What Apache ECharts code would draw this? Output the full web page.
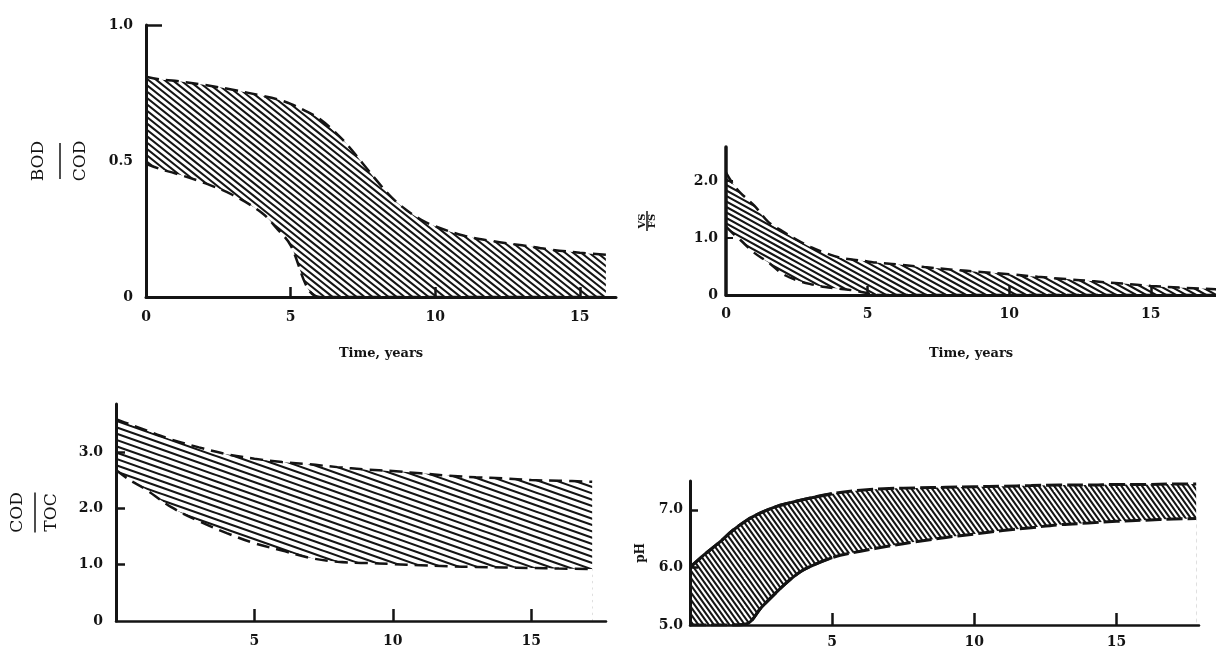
<!DOCTYPE html>
<html>
<head>
<meta charset="utf-8">
<script src="https://cdn.jsdelivr.net/npm/echarts@6/dist/echarts.min.js"></script>
<style>
html,body{margin:0;padding:0;background:#fff;}
#c{width:1216px;height:660px;}
</style>
</head>
<body>
<div id="c"></div>
<script>
// ---- Panel 1: BOD/COD vs time ----
const x1 = [0, 0.5, 1, 2, 3, 4, 4.5, 5, 5.6, 6, 6.5, 7, 7.5, 8, 8.5, 9, 9.5, 10, 11, 12, 13, 14, 15, 15.9];
const u1 = [0.81, 0.80, 0.795, 0.78, 0.762, 0.74, 0.728, 0.71, 0.68, 0.655, 0.61, 0.555, 0.49, 0.425, 0.365, 0.32, 0.285, 0.26, 0.225, 0.205, 0.19, 0.174, 0.163, 0.155];
const l1 = [0.49, 0.47, 0.455, 0.42, 0.375, 0.31, 0.255, 0.19, 0.03, 0, 0, 0, 0, 0, 0, 0, 0, 0, 0, 0, 0, 0, 0, 0];
// ---- Panel 2: VS/FS vs time ----
const x2 = [0, 0.25, 0.5, 1, 1.5, 2, 2.5, 3, 3.5, 4, 4.5, 5, 5.3, 6, 7, 8, 9, 10, 11, 12, 13, 14, 15, 16, 17.3];
const u2 = [2.15, 1.95, 1.8, 1.57, 1.28, 1.12, 0.97, 0.84, 0.74, 0.66, 0.62, 0.59, 0.57, 0.54, 0.49, 0.445, 0.405, 0.365, 0.32, 0.28, 0.24, 0.20, 0.16, 0.13, 0.10];
const l2 = [1.2, 1.08, 0.97, 0.74, 0.57, 0.37, 0.26, 0.19, 0.14, 0.11, 0.08, 0.03, 0, 0, 0, 0, 0, 0, 0, 0, 0, 0, 0, 0, 0];
// ---- Panel 3: COD/TOC vs time ----
const x3 = [0, 0.5, 1, 2, 3, 4, 5, 6, 7, 8, 9, 10, 11, 12, 13, 14, 15, 16, 17.2];
const u3 = [3.58, 3.49, 3.40, 3.22, 3.08, 2.96, 2.88, 2.82, 2.78, 2.73, 2.69, 2.66, 2.62, 2.58, 2.55, 2.53, 2.50, 2.49, 2.47];
const l3 = [2.68, 2.5, 2.36, 2.02, 1.77, 1.56, 1.38, 1.25, 1.12, 1.05, 1.03, 1.01, 0.99, 0.97, 0.96, 0.95, 0.94, 0.93, 0.92];
// ---- Panel 4: pH vs time ----
const x4 = [0, 0.5, 1, 1.5, 2, 2.5, 3, 3.5, 4, 5, 6, 7, 8, 9, 10, 11, 12, 13, 14, 15, 16, 17, 17.8];
const u4 = [6.0, 6.22, 6.42, 6.64, 6.82, 6.95, 7.05, 7.12, 7.18, 7.28, 7.34, 7.37, 7.38, 7.39, 7.40, 7.41, 7.42, 7.43, 7.43, 7.44, 7.44, 7.45, 7.45];
const l4 = [5.0, 5.0, 5.0, 5.0, 5.02, 5.3, 5.55, 5.78, 5.96, 6.17, 6.28, 6.37, 6.45, 6.52, 6.58, 6.64, 6.69, 6.74, 6.77, 6.80, 6.82, 6.84, 6.85];
// part of the pH boundaries printed as a solid line (x <= 5)
const solidEnd4 = 5;

// ---- tick labels ----
const xLabels1 = [0, 5, 10, 15];
const xLabels2 = [0, 5, 10, 15];
const xLabels3 = [5, 10, 15];
const xLabels4 = [5, 10, 15];
const xTickMarks = [5, 10, 15];
const yLabels1 = [0, 0.5, 1.0];
const yLabels2 = [0, 1.0, 2.0];
const yLabels3 = [0, 1.0, 2.0, 3.0];
const yLabels4 = [5.0, 6.0, 7.0];
const xTitle = 'Time, years';

const INK = '#141414';
const FONT = 'DejaVu Serif';

function hatch(slope, hs, lw) {
  const n = Math.max(1, Math.round(60 / hs));
  const W = Math.round(hs * n);
  const H = Math.max(1, Math.round(slope * W));
  const c = document.createElement('canvas');
  c.width = W; c.height = H;
  const g = c.getContext('2d');
  g.fillStyle = '#fff'; g.fillRect(0, 0, W, H);
  g.strokeStyle = INK; g.lineWidth = lw;
  for (let i = 0; i < n; i++) {
    for (let k = -2; k <= 1; k++) {
      const x0 = i * W / n + k * W;
      g.beginPath(); g.moveTo(x0 - W, -H); g.lineTo(x0 + 2 * W, 2 * H); g.stroke();
    }
  }
  return { image: c, repeat: 'repeat' };
}

const panels = [
  { x: x1, u: u1, l: l1, pat: hatch(0.8, 8, 2.0), dash: [13, 7], lw: 2.5 },
  { x: x2, u: u2, l: l2, pat: hatch(0.55, 10, 2.0), dash: [12, 7], lw: 2.5 },
  { x: x3, u: u3, l: l3, pat: hatch(0.35, 18, 2.1), dash: [13, 7], lw: 2.5 },
  { x: x4, u: u4, l: l4, pat: hatch(1.4, 5.2, 2.1), dash: [16, 5], lw: 3 }
];

const series = [];
panels.forEach((p, i) => {
  const upperData = p.x.map((v, j) => [v, p.u[j]]);
  const lowerData = p.x.map((v, j) => [v, p.l[j]]);
  const ls = { type: p.dash, width: p.lw, color: INK, cap: 'butt' };
  // hatched area under the upper boundary
  series.push({
    type: 'line', xAxisIndex: i, yAxisIndex: i,
    data: upperData, symbol: 'none', smooth: 0.35, lineStyle: ls,
    areaStyle: { color: p.pat, opacity: 1, origin: 'start' }, z: 2, silent: true
  });
  // blank area under the lower boundary (leaves only the band hatched)
  series.push({
    type: 'line', xAxisIndex: i, yAxisIndex: i,
    data: lowerData, symbol: 'none', smooth: 0.35, lineStyle: ls,
    areaStyle: { color: '#ffffff', opacity: 1, origin: 'start' }, z: 3, silent: true
  });
});
// solid early part of the pH boundaries
const solidStyle = { type: 'solid', width: 3, color: INK };
series.push({
  type: 'line', xAxisIndex: 3, yAxisIndex: 3, symbol: 'none', smooth: 0.35, z: 4, silent: true,
  lineStyle: solidStyle,
  data: x4.map((v, j) => [v, u4[j]]).filter(d => d[0] <= solidEnd4)
});
series.push({
  type: 'line', xAxisIndex: 3, yAxisIndex: 3, symbol: 'none', smooth: 0.35, z: 4, silent: true,
  lineStyle: solidStyle,
  data: x4.map((v, j) => [v, l4[j]]).filter(d => d[0] >= 1.5 && d[0] <= solidEnd4)
});

const lab = (extra) => Object.assign({
  fontFamily: FONT, fontWeight: 'bold', fontSize: 14, color: INK
}, extra);

function fmtY(v) { return v === 0 ? '0' : v.toFixed(1); }
function fmtX(v) { return String(v); }

const axisLine = (w) => ({ show: true, onZero: false, lineStyle: { color: INK, width: w } });
const titleStyle = { fontFamily: FONT, fontWeight: 'bold', fontSize: 13, color: INK };

const xAxes = [
  { gridIndex: 0, type: 'value', min: 0, max: 16.25, interval: 5, z: 10,
    axisLine: axisLine(3), splitLine: { show: false },
    axisTick: { inside: true, length: 10, customValues: xTickMarks, lineStyle: { color: INK, width: 2.5 } },
    axisLabel: lab({ customValues: xLabels1, margin: 13, formatter: fmtX }),
    name: xTitle, nameLocation: 'middle', nameGap: 50, nameTextStyle: titleStyle },
  { gridIndex: 1, type: 'value', min: 0, max: 17.3, interval: 5, z: 10,
    axisLine: axisLine(3), splitLine: { show: false },
    axisTick: { inside: true, length: 9, customValues: xTickMarks, lineStyle: { color: INK, width: 2.5 } },
    axisLabel: lab({ customValues: xLabels2, margin: 12, formatter: fmtX }),
    name: xTitle, nameLocation: 'middle', nameGap: 52, nameTextStyle: titleStyle },
  { gridIndex: 2, type: 'value', min: 0, max: 17.7, interval: 5, z: 10,
    axisLine: axisLine(2.5), splitLine: { show: false },
    axisTick: { inside: true, length: 12, customValues: xTickMarks, lineStyle: { color: INK, width: 2.5 } },
    axisLabel: lab({ customValues: xLabels3, margin: 13, formatter: fmtX }) },
  { gridIndex: 3, type: 'value', min: 0, max: 17.9, interval: 5, z: 10,
    axisLine: axisLine(2.5), splitLine: { show: false },
    axisTick: { inside: true, length: 12, customValues: xTickMarks, lineStyle: { color: INK, width: 2.5 } },
    axisLabel: lab({ customValues: xLabels4, margin: 10, formatter: fmtX }) }
];

const fracRich = (size, w, lh, weight) => ({
  a: { fontFamily: FONT, fontSize: size, color: INK, lineHeight: lh, fontWeight: weight },
  l: { width: w, height: 0, borderColor: INK, borderWidth: 1.5, lineHeight: 2 }
});

const yAxes = [
  { gridIndex: 0, type: 'value', min: 0, max: 1.0, interval: 0.5, z: 10,
    axisLine: axisLine(3), splitLine: { show: false },
    axisTick: { inside: true, length: 16, customValues: [1.0], lineStyle: { color: INK, width: 2.5 } },
    axisLabel: lab({ customValues: yLabels1, margin: 13, formatter: fmtY }),
    name: '{a|BOD}\n{l|}\n{a|COD}', nameLocation: 'middle', nameRotate: 90, nameGap: 45,
    nameTextStyle: { rich: fracRich(17, 36, 40, 'normal') } },
  { gridIndex: 1, type: 'value', min: 0, max: 2.6, interval: 1, z: 10,
    axisLine: axisLine(3.5), splitLine: { show: false },
    axisTick: { inside: true, length: 7, customValues: [1.0, 2.0], lineStyle: { color: INK, width: 2 } },
    axisLabel: lab({ customValues: yLabels2, margin: 8, formatter: fmtY }),
    name: '{a|VS}\n{l|}\n{a|FS}', nameLocation: 'middle', nameRotate: 90, nameGap: 70,
    nameTextStyle: { rich: fracRich(10, 20, 8, 'bold') } },
  { gridIndex: 2, type: 'value', min: 0, max: 3.85, interval: 1, z: 10,
    axisLine: axisLine(3), splitLine: { show: false },
    axisTick: { inside: true, length: 9, customValues: [1.0, 2.0, 3.0], lineStyle: { color: INK, width: 2.5 } },
    axisLabel: lab({ customValues: yLabels3, margin: 13, formatter: fmtY }),
    name: '{a|COD}\n{l|}\n{a|TOC}', nameLocation: 'middle', nameRotate: 90, nameGap: 48,
    nameTextStyle: { rich: fracRich(17, 40, 32, 'normal') } },
  { gridIndex: 3, type: 'value', min: 5.0, max: 7.5, interval: 1, z: 10,
    axisLine: axisLine(3), splitLine: { show: false },
    axisTick: { inside: true, length: 8, customValues: [6.0, 7.0], lineStyle: { color: INK, width: 2.5 } },
    axisLabel: lab({ customValues: yLabels4, margin: 7, formatter: fmtY }),
    name: 'pH', nameLocation: 'middle', nameRotate: 90, nameGap: 43,
    nameTextStyle: { fontFamily: FONT, fontWeight: 'bold', fontSize: 12, color: INK } }
];

const chart = echarts.init(document.getElementById('c'), null, { renderer: 'canvas' });
chart.setOption({
  backgroundColor: '#ffffff',
  animation: false,
  grid: [
    { left: 146, top: 25, width: 470, height: 272, containLabel: false, outerBoundsMode: 'none' },
    { left: 726, top: 147, width: 490, height: 148, containLabel: false, outerBoundsMode: 'none' },
    { left: 116, top: 404, width: 490, height: 217, containLabel: false, outerBoundsMode: 'none' },
    { left: 690, top: 481, width: 509, height: 144, containLabel: false, outerBoundsMode: 'none' }
  ],
  xAxis: xAxes,
  yAxis: yAxes,
  series: series
});
</script>
</body>
</html>
